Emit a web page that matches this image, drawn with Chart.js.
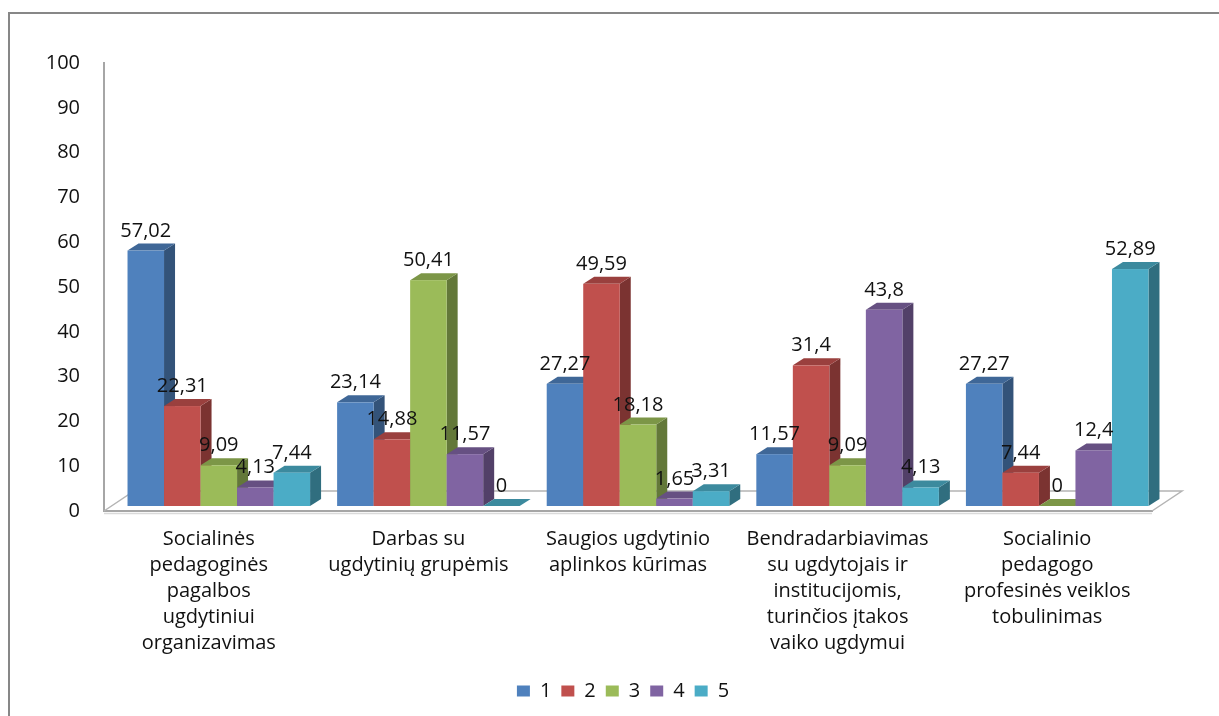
<!DOCTYPE html>
<html>
<head>
<meta charset="utf-8">
<script src="https://cdn.jsdelivr.net/npm/chart.js@4.4.1/dist/chart.umd.min.js"></script>
<style>
  html, body { margin: 0; padding: 0; background: #fff; }
  #wrap { position: relative; width: 1219px; height: 716px; overflow: hidden; }
  #frame { position: absolute; left: 8px; top: 12px; width: 1400px; height: 900px;
           border-top: 2px solid #878787; border-left: 2px solid #878787; }
  #c { position: absolute; left: 0; top: 0; }
</style>
</head>
<body>
<div id="wrap">
  <div id="frame"></div>
  <canvas id="c" width="1219" height="716"></canvas>
</div>
<script>
// Categories (multi-line axis labels)
const categories = [
  ['Socialinės', 'pedagoginės', 'pagalbos', 'ugdytiniui', 'organizavimas'],
  ['Darbas su', 'ugdytinių grupėmis'],
  ['Saugios ugdytinio', 'aplinkos kūrimas'],
  ['Bendradarbiavimas', 'su ugdytojais ir', 'institucijomis,', 'turinčios įtakos', 'vaiko ugdymui'],
  ['Socialinio', 'pedagogo', 'profesinės veiklos', 'tobulinimas']
];

// Series names and values
const seriesNames = ['1', '2', '3', '4', '5'];
const series1 = [57.02, 23.14, 27.27, 11.57, 27.27];
const series2 = [22.31, 14.88, 49.59, 31.4, 7.44];
const series3 = [9.09, 50.41, 18.18, 9.09, 0];
const series4 = [4.13, 11.57, 1.65, 43.8, 12.4];
const series5 = [7.44, 0, 3.31, 4.13, 52.89];

// Value axis
const yMin = 0;
const yMax = 100;
const yStep = 10;

const seriesColors = ['#4F81BD', '#C0504D', '#9BBB59', '#8064A2', '#4BACC6'];
const FONT = '"Open Sans", "Liberation Sans", sans-serif';
const TEXT = '#111111';

function shade(hex, f) {
  const n = parseInt(hex.slice(1), 16);
  const r = (n >> 16) & 255, g = (n >> 8) & 255, b = n & 255;
  return 'rgb(' + Math.round(r * f) + ',' + Math.round(g * f) + ',' + Math.round(b * f) + ')';
}

// 3D geometry
const FLOOR_DX = 30, FLOOR_DY = -20;     // floor depth
const SHIFT_X = 10, SHIFT_Y = -5;        // bars stand in the middle of the floor depth
const BAR_DX = 11, BAR_DY = -7;          // bar depth

function fmt(v) { return String(v).replace('.', ','); }

const bars3d = {
  id: 'bars3d',
  afterLayout(chart) {
    // centre the legend under the whole frame
    chart.legend.left += 32;
    chart.legend.right += 32;
  },
  beforeDatasetsDraw(chart) {
    const ctx = chart.ctx;
    const a = chart.chartArea;
    const y0 = chart.scales.y.getPixelForValue(0);

    ctx.save();
    // floor
    ctx.beginPath();
    ctx.moveTo(a.left, y0);
    ctx.lineTo(a.left + FLOOR_DX, y0 + FLOOR_DY);
    ctx.lineTo(a.right + FLOOR_DX, y0 + FLOOR_DY);
    ctx.lineTo(a.right, y0);
    ctx.strokeStyle = '#b4b4b4';
    ctx.lineWidth = 1.5;
    ctx.stroke();
    // soft shadow under the front edge
    ctx.beginPath();
    ctx.moveTo(a.left, y0 + 2.5);
    ctx.lineTo(a.right, y0 + 2.5);
    ctx.strokeStyle = '#dadada';
    ctx.lineWidth = 1.5;
    ctx.stroke();

    const nCats = chart.data.labels.length;
    const nSets = chart.data.datasets.length;
    const labels = [];
    for (let j = 0; j < nCats; j++) {
      for (let i = 0; i < nSets; i++) {
        if (!chart.isDatasetVisible(i)) continue;
        const el = chart.getDatasetMeta(i).data[j];
        const col = seriesColors[i];
        const l = el.x - el.width / 2 + SHIFT_X;
        const r = el.x + el.width / 2 + SHIFT_X;
        const t = Math.min(el.y, el.base) + SHIFT_Y;
        const b = Math.max(el.y, el.base) + SHIFT_Y;

        // side face
        ctx.beginPath();
        ctx.moveTo(r, t);
        ctx.lineTo(r + BAR_DX, t + BAR_DY);
        ctx.lineTo(r + BAR_DX, b + BAR_DY);
        ctx.lineTo(r, b);
        ctx.closePath();
        ctx.fillStyle = shade(col, 0.64);
        ctx.fill();

        // top face
        ctx.beginPath();
        ctx.moveTo(l, t);
        ctx.lineTo(l + BAR_DX, t + BAR_DY);
        ctx.lineTo(r + BAR_DX, t + BAR_DY);
        ctx.lineTo(r, t);
        ctx.closePath();
        ctx.fillStyle = shade(col, 0.8);
        ctx.fill();

        // front face
        ctx.fillStyle = col;
        ctx.fillRect(l, t, r - l, b - t);

        const v = chart.data.datasets[i].data[j];
        labels.push({ x: (l + r) / 2, y: t - 14, text: fmt(v) });
      }
    }

    // value labels
    ctx.font = '20px ' + FONT;
    ctx.fillStyle = TEXT;
    ctx.textAlign = 'center';
    ctx.textBaseline = 'alphabetic';
    labels.forEach(p => ctx.fillText(p.text, p.x, p.y));
    ctx.restore();
    return false;
  }
};

function build() {
  const allSeries = [series1, series2, series3, series4, series5];
  new Chart(document.getElementById('c'), {
    type: 'bar',
    data: {
      labels: categories,
      datasets: allSeries.map((d, i) => ({
        label: seriesNames[i],
        data: d,
        backgroundColor: seriesColors[i],
        borderWidth: 0,
        categoryPercentage: 0.871,
        barPercentage: 1.0
      }))
    },
    options: {
      responsive: false,
      animation: false,
      devicePixelRatio: 1,
      layout: { padding: { left: 30, right: 67, top: 63, bottom: 5 } },
      plugins: {
        legend: {
          position: 'bottom',
          labels: {
            boxWidth: 13, boxHeight: 11, padding: 10,
            color: TEXT,
            font: { family: FONT, size: 20 }
          }
        },
        tooltip: { enabled: false }
      },
      scales: {
        x: {
          grid: { display: false },
          border: { display: true, color: '#a6a6a6', width: 2 },
          ticks: {
            color: TEXT, padding: 7, maxRotation: 0, autoSkip: false,
            font: { family: FONT, size: 20, lineHeight: 1.3 }
          },
          afterFit(s) { s.height = 160; }
        },
        y: {
          min: yMin, max: yMax,
          grid: { display: false },
          border: { display: true, color: '#a6a6a6', width: 2 },
          ticks: {
            stepSize: yStep, color: TEXT, padding: 16,
            font: { family: FONT, size: 20 }
          },
          afterFit(s) { s.width = 74; }
        }
      }
    },
    plugins: [bars3d]
  });
}

if (document.fonts && document.fonts.load) {
  document.fonts.load('20px "Open Sans"').then(build, build);
} else {
  build();
}
</script>
</body>
</html>
